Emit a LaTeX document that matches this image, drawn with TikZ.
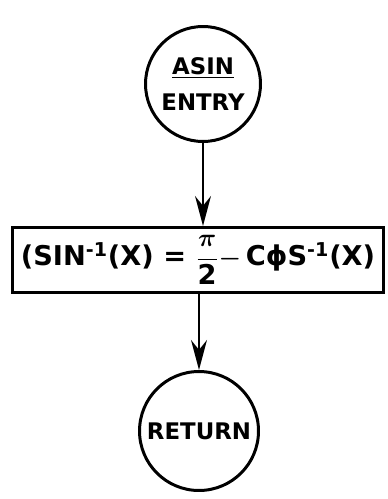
\documentclass[tikz,border=0pt]{standalone}
\usepackage{fontspec}
\setmainfont{DejaVu Sans}
\usetikzlibrary{arrows.meta,positioning}

\newcommand{\asinformula}{(SIN\textsuperscript{-1}(X) = {\boldmath$\displaystyle\frac{\pi}{\mbox{2}}-$}\,CϕS\textsuperscript{-1}(X)}

\begin{document}
\begin{tikzpicture}[x=0.02cm,y=-0.02cm,line width=1.7pt,font=\bfseries,
  term/.style={draw,circle,align=center,font=\bfseries\fontsize{13}{15}\selectfont},
  flow/.style={-{Stealth[length=17pt,width=9pt]}}]
\useasboundingbox(0,0)rectangle(387,499);
\node[term,minimum size=2.3cm](entry)at(203,84){\underline{ASIN}\\[5pt]ENTRY};
\node[draw,minimum width=7.44cm,minimum height=1.3cm,font=\bfseries\fontsize{15.5}{18}\selectfont](calc)at(198,260){\asinformula};
\node[term,minimum size=2.25cm](ret)at(199,431){RETURN};
\draw[flow](entry.south)--(entry.south|-calc.north);
\draw[flow](calc.south-|ret.north)--(ret.north);
\end{tikzpicture}
\end{document}
